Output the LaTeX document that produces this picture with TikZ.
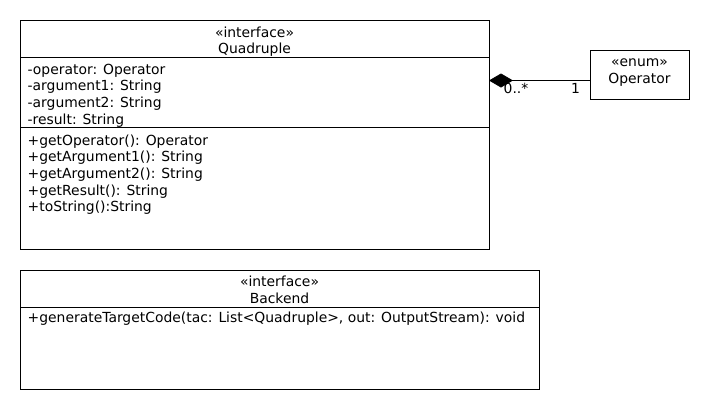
\documentclass[tikz,border=0pt]{standalone}
\usepackage{fontspec}
\setmainfont{DejaVu Sans}
\usetikzlibrary{arrows.meta}

\tikzset{
  umlbox/.style = {draw, rectangle, line width=0.8pt, inner sep=0pt, outer sep=0pt},
  member/.style = {anchor=base west, inner sep=0pt},
  header/.style = {anchor=base, inner sep=0pt}
}

\begin{document}
\begin{tikzpicture}[x=1pt, y=-1pt, font=\fontsize{13.9}{16.7}\selectfont]
\useasboundingbox (0,0) rectangle (710,410);

% Quadruple
\node[umlbox, minimum width=469, minimum height=229] (quad) at (254.5,134.5) {};
\draw[line width=0.8pt] (quad.west |- 0,57.3) -- (quad.east |- 0,57.3);
\draw[line width=0.8pt] (quad.west |- 0,127.3) -- (quad.east |- 0,127.3);
\node[header] (quadStereo) at (254.5,37) {«interface»};
\node[header] (quadName) at (254.5,53.5) {Quadruple};

\node[member] (quadOperator) at (27.5,74) {-operator: Operator};
\node[member] (quadArgOne) at (27.5,90.7) {-argument1: String};
\node[member] (quadArgTwo) at (27.5,107.4) {-argument2: String};
\node[member] (quadResult) at (27.5,124) {-result: String};

\node[member] (getOperator) at (27.5,145) {+getOperator(): Operator};
\node[member] (getArgOne) at (27.5,161.7) {+getArgument1(): String};
\node[member] (getArgTwo) at (27.5,178.4) {+getArgument2(): String};
\node[member] (getResult) at (27.5,195.1) {+getResult(): String};
\node[member] (toString) at (27.5,211.8) {+toString():String};

% Operator
\node[umlbox, minimum width=99, minimum height=49] (op) at (639.5,74.5) {};
\node[header] (opStereo) at (639.5,66) {«enum»};
\node[header] (opName) at (639.5,83) {Operator};

% Backend
\node[umlbox, minimum width=519, minimum height=119] (backend) at (279.5,329.5) {};
\draw[line width=0.8pt] (backend.west |- 0,307.7) -- (backend.east |- 0,307.7);
\node[header] (backendStereo) at (279.5,286) {«interface»};
\node[header] (backendName) at (279.5,303) {Backend};
\node[member] (generate) at (27.5,322.5) {+generateTargetCode(tac: List<Quadruple>, out: OutputStream): void};

% composition
\coordinate (assoc) at (489,80.5);
\draw[line width=0.8pt, {Diamond[length=24pt, width=14pt]}-] (assoc) -- (assoc -| op.west);
\node[member] (multMany) at (503.5,93) {0..*};
\node[member] (multOne) at (571,93) {1};
\end{tikzpicture}
\end{document}
